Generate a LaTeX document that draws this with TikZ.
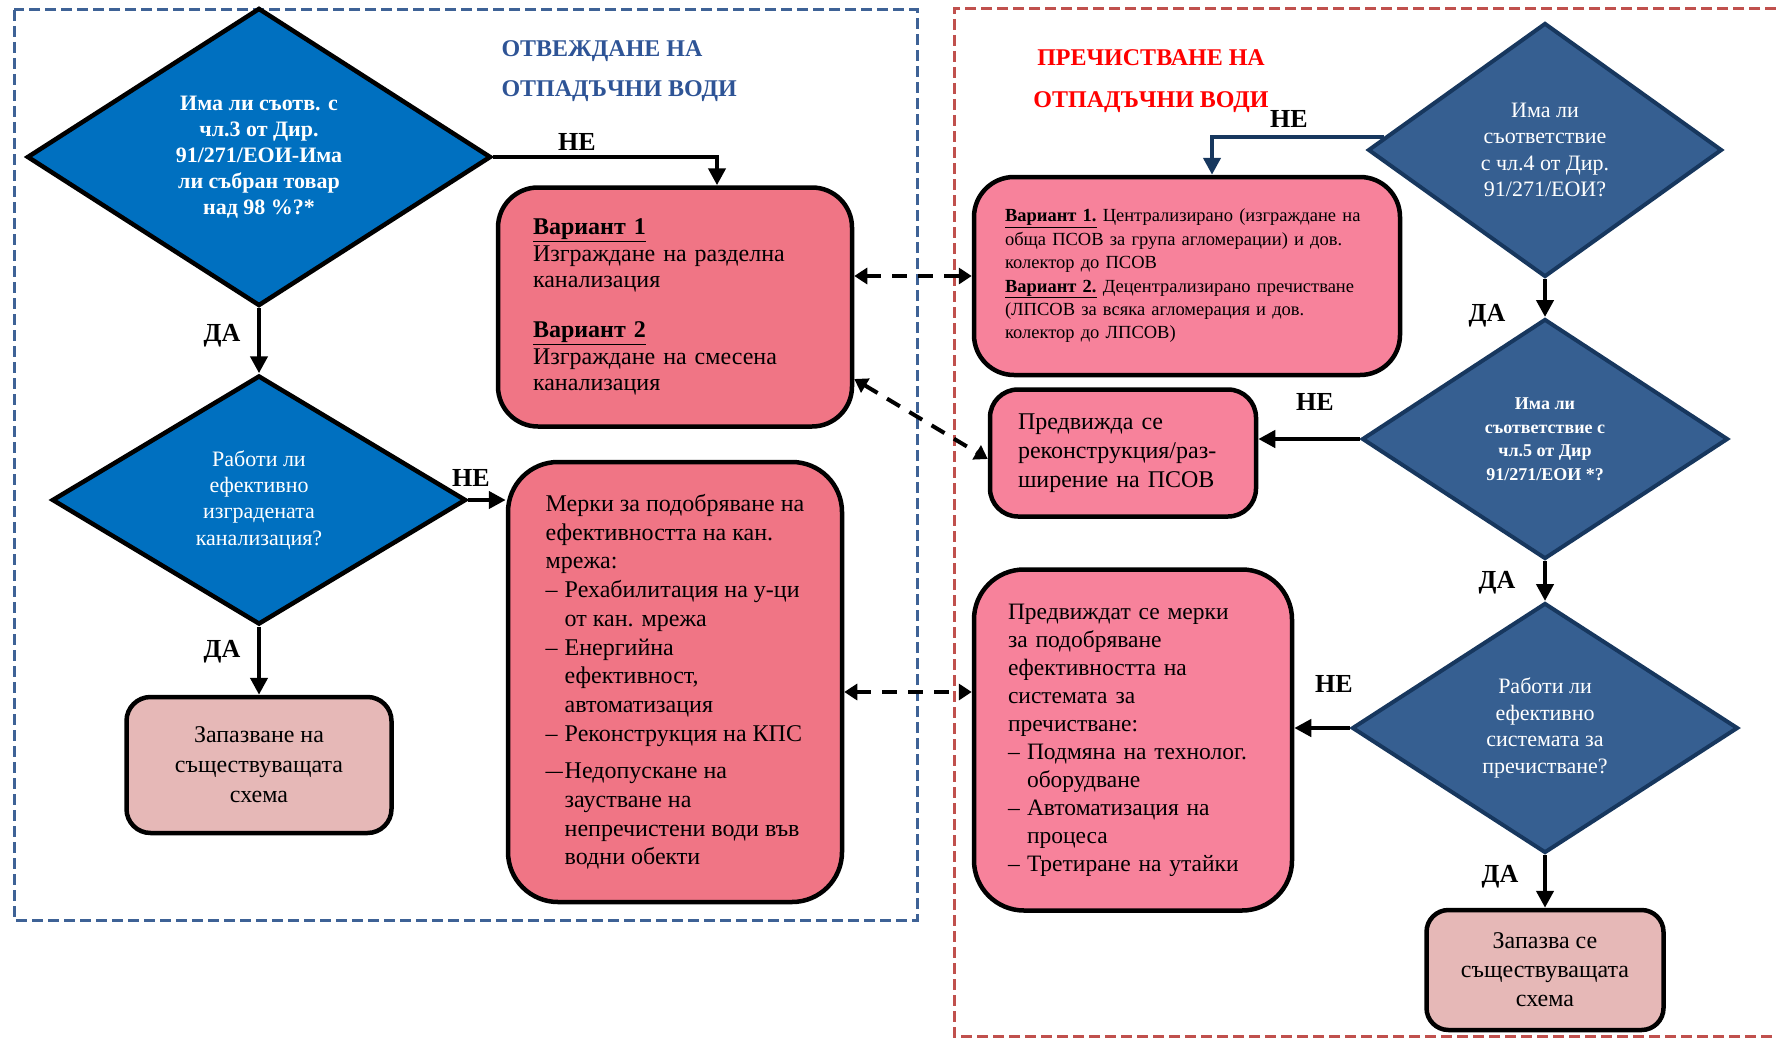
\documentclass[tikz,border=0pt]{standalone}
\usepackage{fontspec}
\setmainfont{Liberation Serif}
\usetikzlibrary{shapes.geometric,arrows.meta}

\definecolor{qblue}{RGB}{0,112,192}
\definecolor{steel}{RGB}{54,95,145}
\definecolor{navy}{RGB}{23,55,94}
\definecolor{rose}{RGB}{240,117,133}
\definecolor{pinkb}{RGB}{247,130,155}
\definecolor{blush}{RGB}{230,184,183}
\definecolor{frameblue}{RGB}{62,98,150}
\definecolor{titleblue}{RGB}{46,84,150}
\definecolor{framered}{RGB}{192,80,77}

\tikzset{
  decision/.style={diamond, draw, line width=4.5pt, fill=qblue, text=white,
    align=center, inner sep=0pt, aspect=1.5, font=\fontsize{22}{26.3}\selectfont},
  check/.style={decision, draw=navy, line width=4pt, fill=steel},
  action/.style={rectangle, draw, line width=4.5pt, rounded corners=40pt,
    fill=rose, align=left, inner sep=0pt, font=\fontsize{24}{28.7}\selectfont},
  holdbox/.style={action, fill=blush, align=center, rounded corners=24pt},
  yesno/.style={font=\fontsize{26}{28}\selectfont\bfseries},
  flowarrow/.style={line width=4.5pt, -{Triangle[length=17pt,width=17pt]}},
  duplex/.style={line width=4pt, dash pattern=on 15pt off 11pt,
    {Triangle[length=13pt,width=16pt]}-{Triangle[length=13pt,width=16pt]}},
  zone/.style={line width=3pt, dash pattern=on 11pt off 5pt}
}
\newcommand{\dashitem}{\makebox[19pt][l]{–}}
\newcommand{\dashcont}{\hspace*{19pt}}

\begin{document}
\begin{tikzpicture}[x=1pt, y=-1pt]
\useasboundingbox (0,0) rectangle (1776,1038);

% the two zones
\draw[zone, draw=frameblue] (14,10) rectangle (917,920);
\draw[zone, draw=framered] (1776,9) -- (954,9) -- (954,1036) -- (1776,1036);

\node[anchor=west, align=left, text=titleblue, font=\fontsize{24}{40}\selectfont\bfseries]
  (title1) at (498,71) {ОТВЕЖДАНЕ НА\\ОТПАДЪЧНИ ВОДИ};
\node[align=center, text=red, font=\fontsize{24}{42}\selectfont\bfseries]
  (title2) at (1151,81) {ПРЕЧИСТВАНЕ НА\\ОТПАДЪЧНИ ВОДИ};

% sewerage
\node[decision, font=\fontsize{22}{26}\selectfont\bfseries,
  minimum width=464pt, minimum height=298pt] (d1) at (259,157)
  {Има ли съотв. с\\чл.3 от Дир.\\91/271/ЕОИ-Има\\ли събран товар\\над 98 \%?*};
\node[decision, minimum width=414pt, minimum height=249pt] (d2) at (259,500)
  {Работи ли\\ефективно\\изградената\\канализация?};
\node[holdbox, font=\fontsize{24}{30}\selectfont, minimum width=265pt,
  minimum height=136pt] (l3) at (259,765) {Запазване на\\съществуващата\\схема};
\node[action, text width=284pt, minimum width=354pt, minimum height=239pt,
  font=\fontsize{24}{26.6}\selectfont] (v1) at (675,307)
  {\underline{\textbf{Вариант 1}}\\Изграждане на разделна\\канализация\\[23pt]
   \underline{\textbf{Вариант 2}}\\Изграждане на смесена\\канализация};
\node[action, rounded corners=50pt, minimum width=334pt, minimum height=440pt]
  (m) at (675,682)
  {Мерки за подобряване на\\ефективността на кан.\\мрежа:\\
   \dashitem Рехабилитация на у-ци\\\dashcont от кан. мрежа\\
   \dashitem Енергийна\\\dashcont ефективност,\\\dashcont автоматизация\\
   \dashitem Реконструкция на КПС\\[9pt]
   \makebox[19pt][l]{\scalebox{0.72}[1]{—}}Недопускане на\\\dashcont заустване на\\
   \dashcont непречистени води във\\\dashcont водни обекти};

\draw[flowarrow] (d1.east) -| ([xshift=42pt]v1.north);
\draw[flowarrow] (d1.south) -- (d2.north);
\draw[flowarrow] (d2.east) -- (d2.east -| m.west);
\draw[flowarrow] (d2.south) -- (l3.north);
\node[yesno] (ne1) at (577,142) {НЕ};
\node[yesno] (da1) at (222,336) {ДА};
\node[yesno] (ne2) at (471,478) {НЕ};
\node[yesno] (da2) at (222,652) {ДА};

% treatment
\node[check, minimum width=354pt, minimum height=254pt] (pd1) at (1545,150)
  {Има ли\\съответствие\\с чл.4 от Дир.\\91/271/ЕОИ?};
\node[check, font=\fontsize{18}{23.5}\selectfont\bfseries, minimum width=366pt,
  minimum height=240pt] (pd2) at (1545,439)
  {Има ли\\съответствие с\\чл.5 от Дир\\91/271/ЕОИ *?};
\node[check, font=\fontsize{22}{26.7}\selectfont, minimum width=386pt,
  minimum height=250pt] (pd3) at (1545,728)
  {Работи ли\\ефективно\\системата за\\пречистване?};
\node[action, fill=pinkb, text width=364pt, minimum width=426pt,
  minimum height=198pt, font=\fontsize{18.5}{23.4}\selectfont] (p1) at (1187,276)
  {\underline{\textbf{Вариант 1.}} Централизирано (изграждане на\\
   обща ПСОВ за група агломерации) и дов.\\колектор до ПСОВ\\
   \underline{\textbf{Вариант 2.}} Децентрализирано пречистване\\
   (ЛПСОВ за всяка агломерация и дов.\\колектор до ЛПСОВ)};
\node[action, fill=pinkb, rounded corners=28pt, font=\fontsize{24}{29}\selectfont,
  text width=210pt, minimum width=266pt, minimum height=127pt] (p2) at (1123,453)
  {Предвижда се\\реконструкция/раз-\\ширение на ПСОВ};
\node[action, fill=pinkb, rounded corners=50pt, font=\fontsize{23.5}{28}\selectfont,
  text width=250pt, minimum width=318pt, minimum height=341pt] (p3) at (1133,740)
  {Предвиждат се мерки\\за подобряване\\ефективността на\\системата за\\
   пречистване:\\\dashitem Подмяна на технолог.\\\dashcont оборудване\\
   \dashitem Автоматизация на\\\dashcont процеса\\\dashitem Третиране на утайки};
\node[holdbox, rounded corners=22pt, font=\fontsize{24}{29}\selectfont,
  minimum width=237pt, minimum height=120pt] (pz) at (1545,970)
  {Запазва се\\съществуващата\\схема};

\draw[flowarrow, draw=navy] ([xshift=18pt,yshift=13pt]pd1.west) -| ([xshift=25pt]p1.north);
\draw[flowarrow] (pd1.south) -- (pd2.north);
\draw[flowarrow] (pd2.west) -- (pd2.west -| p2.east);
\draw[flowarrow] (pd2.south) -- (pd3.north);
\draw[flowarrow] (pd3.west) -- (pd3.west -| p3.east);
\draw[flowarrow] (pd3.south) -- (pz.north);
\node[yesno] (ne3) at (1289,119) {НЕ};
\node[yesno] (da3) at (1487,316) {ДА};
\node[yesno] (ne4) at (1315,402) {НЕ};
\node[yesno] (da4) at (1497,583) {ДА};
\node[yesno] (ne5) at (1334,684) {НЕ};
\node[yesno] (da5) at (1500,877) {ДА};

% links between the two zones
\draw[duplex] (v1.east |- p1.west) -- (p1.west);
\draw[duplex] ([yshift=-72pt]v1.east) -- ([yshift=-6pt]p2.west);
\draw[duplex] ([yshift=-10pt]m.east) -- ([yshift=-10pt]m.east -| p3.west);
\end{tikzpicture}
\end{document}
